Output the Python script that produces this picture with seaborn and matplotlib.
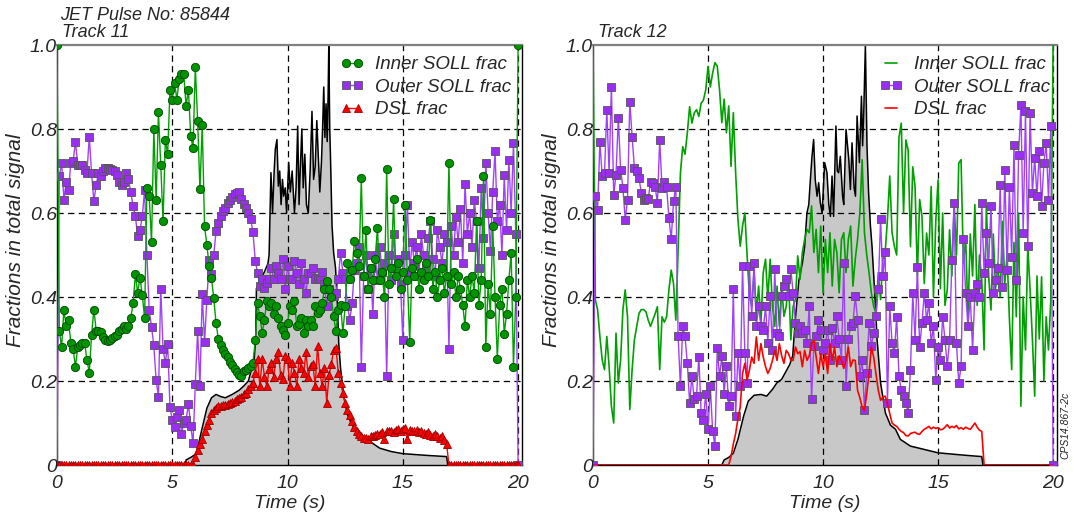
import numpy as np
import matplotlib
matplotlib.use("Agg")
import matplotlib.pyplot as plt
import seaborn as sns

sns.set_style("white")
plt.rcParams['font.family'] = ['Liberation Sans', 'DejaVu Sans']
plt.rcParams['font.style'] = 'italic'

# ---------------- data ----------------
time = np.round(np.arange(201) * 0.1, 1)   # 0.0 .. 20.0 s sampling

left_inner = [
    1.00, 0.32, 0.28, 0.37, 0.33, 0.345, 0.29, 0.276, 0.234, 0.28,
    0.285, 0.29, 0.29, 0.25, 0.22, 0.31, 0.37, 0.32, 0.32, 0.317,
    0.305, 0.297, 0.295, 0.297, 0.303, 0.308, 0.31, 0.32, 0.325, 0.33,
    0.325, 0.33, 0.35, 0.385, 0.454, 0.41, 0.446, 0.404, 0.35, 0.66,
    0.64, 0.53, 0.80, 0.63, 0.84, 0.715, 0.58, 0.775, 0.74, 0.893,
    0.87, 0.91, 0.87, 0.92, 0.93, 0.93, 0.855, 0.893, 0.783, 0.755,
    0.948, 0.82, 0.656, 0.81, 0.568, 0.525, 0.473, 0.445, 0.397, 0.337,
    0.30, 0.285, 0.274, 0.265, 0.256, 0.245, 0.238, 0.228, 0.222, 0.215,
    0.212, 0.223, 0.227, 0.23, 0.236, 0.243, 0.297, 0.386, 0.354, 0.315,
    0.346, 0.39, 0.378, 0.386, 0.36, 0.378, 0.35, 0.33, 0.322, 0.31,
    0.338, 0.378, 0.37, 0.39, 0.33, 0.335, 0.35, 0.315, 0.346, 0.33,
    0.346, 0.33, 0.378, 0.362, 0.37, 0.386, 0.418, 0.437, 0.42, 0.40,
    0.354, 0.318, 0.37, 0.381, 0.315, 0.378, 0.48, 0.442, 0.465, 0.533,
    0.505, 0.473, 0.683, 0.45, 0.56, 0.42, 0.47, 0.44, 0.49, 0.565,
    0.44, 0.46, 0.40, 0.705, 0.43, 0.47, 0.633, 0.45, 0.48, 0.42,
    0.46, 0.62, 0.44, 0.293, 0.47, 0.45, 0.49, 0.42, 0.46, 0.44,
    0.48, 0.45, 0.584, 0.42, 0.46, 0.40, 0.44, 0.47, 0.41, 0.45,
    0.72, 0.43, 0.46, 0.40, 0.45, 0.42, 0.38, 0.33, 0.44, 0.40,
    0.45, 0.41, 0.58, 0.38, 0.44, 0.687, 0.28, 0.43, 0.36, 0.57,
    0.40, 0.253, 0.38, 0.42, 0.313, 0.36, 0.44, 0.505, 0.234, 0.40,
    1.00,
]

left_outer = [
    0.0, 0.687, 0.72, 0.632, 0.675, 0.655, 0.72, 0.723, 0.77, 0.714,
    0.714, 0.714, 0.703, 0.695, 0.782, 0.695, 0.628, 0.667, 0.695, 0.687,
    0.70, 0.707, 0.707, 0.705, 0.703, 0.70, 0.69, 0.675, 0.667, 0.675,
    0.695, 0.68, 0.65, 0.616, 0.592, 0.545, 0.56, 0.592, 0.655, 0.50,
    0.368, 0.329, 0.285, 0.202, 0.162, 0.42, 0.277, 0.242, 0.289, 0.139,
    0.107, 0.091, 0.115, 0.132, 0.075, 0.10, 0.108, 0.146, 0.092, 0.052,
    0.194, 0.32, 0.188, 0.408, 0.292, 0.394, 0.487, 0.455, 0.50, 0.557,
    0.577, 0.592, 0.605, 0.613, 0.625, 0.632, 0.637, 0.645, 0.648, 0.649,
    0.633, 0.621, 0.612, 0.60, 0.586, 0.554, 0.486, 0.458, 0.426, 0.442,
    0.422, 0.434, 0.442, 0.47, 0.442, 0.474, 0.458, 0.442, 0.49, 0.418,
    0.474, 0.442, 0.442, 0.486, 0.458, 0.43, 0.482, 0.442, 0.41, 0.458,
    0.458, 0.47, 0.442, 0.446, 0.442, 0.46, 0.43, 0.378, 0.418, 0.41,
    0.402, 0.41, 0.442, 0.505, 0.458, 0.442, 0.378, 0.346, 0.386, 0.465,
    0.48, 0.52, 0.234, 0.45, 0.50, 0.42, 0.47, 0.36, 0.50, 0.44,
    0.52, 0.46, 0.48, 0.211, 0.50, 0.44, 0.55, 0.47, 0.49, 0.43,
    0.297, 0.50, 0.62, 0.46, 0.53, 0.48, 0.52, 0.45, 0.55, 0.50,
    0.47, 0.54, 0.58, 0.49, 0.45, 0.56, 0.52, 0.48, 0.55, 0.53,
    0.277, 0.57, 0.50, 0.59, 0.53, 0.61, 0.48, 0.67, 0.55, 0.60,
    0.52, 0.63, 0.58, 0.47, 0.66, 0.54, 0.72, 0.60, 0.51, 0.65,
    0.747, 0.58, 0.62, 0.50, 0.69, 0.56, 0.727, 0.60, 0.766, 0.55,
    0.0,
]

left_dsl = [0.0] * 60 + [
    0.02, 0.035, 0.05, 0.061, 0.08, 0.095, 0.108, 0.124, 0.132, 0.136,
    0.14, 0.141, 0.142, 0.144, 0.145, 0.147, 0.150, 0.152, 0.156, 0.160,
    0.163, 0.168, 0.172, 0.180, 0.188, 0.196, 0.22, 0.252, 0.188, 0.252,
    0.21, 0.188, 0.228, 0.243, 0.21, 0.252, 0.268, 0.215, 0.204, 0.26,
    0.252, 0.188, 0.243, 0.22, 0.188, 0.252, 0.232, 0.22, 0.268, 0.21,
    0.235, 0.24, 0.188, 0.283, 0.22, 0.188, 0.23, 0.148, 0.215, 0.24,
    0.275, 0.279, 0.22, 0.196, 0.172, 0.148, 0.132, 0.12, 0.105, 0.09,
    0.08, 0.075, 0.07, 0.065, 0.065, 0.062, 0.068, 0.07, 0.072, 0.075,
    0.075, 0.078, 0.062, 0.08, 0.082, 0.08, 0.078, 0.083, 0.085, 0.082,
    0.085, 0.088, 0.062, 0.084, 0.082, 0.08, 0.083, 0.078, 0.08, 0.076,
    0.075, 0.078, 0.072, 0.07, 0.073, 0.068, 0.065, 0.068, 0.06, 0.05,
] + [0.0] * 31

left_total_t = [
    0.0, 5.55, 5.6, 5.8, 6.0, 6.1, 6.2, 6.35, 6.5, 6.7,
    6.9, 7.1, 7.3, 7.6, 7.9, 8.1, 8.3, 8.45, 8.55, 8.62,
    8.65, 8.8, 9.0, 9.15, 9.2, 9.28, 9.35, 9.42, 9.47, 9.54,
    9.6, 9.66, 9.72, 9.78, 9.83, 9.9, 9.96, 10.05, 10.12, 10.2,
    10.3, 10.37, 10.44, 10.5, 10.55, 10.62, 10.68, 10.75, 10.82, 10.9,
    10.98, 11.06, 11.13, 11.2, 11.27, 11.33, 11.4, 11.47, 11.52, 11.57,
    11.62, 11.67, 11.72, 11.76, 11.79, 11.83, 11.86, 11.93, 12.0, 12.08,
    12.15, 12.22, 12.3, 12.45, 12.6, 12.8, 13.0, 13.3, 13.6, 14.0,
    14.5, 15.0, 16.0, 16.9, 16.95, 20.0,
]
left_total_v = [
    0.0, 0.0, 0.012, 0.018, 0.025, 0.04, 0.065, 0.10, 0.135, 0.16,
    0.168, 0.163, 0.16, 0.168, 0.178, 0.188, 0.20, 0.23, 0.25, 0.30,
    0.42, 0.44, 0.46, 0.48, 0.50, 0.696, 0.60, 0.70, 0.752, 0.775,
    0.664, 0.70, 0.62, 0.68, 0.64, 0.66, 0.60, 0.72, 0.65, 0.70,
    0.60, 0.66, 0.807, 0.62, 0.70, 0.80, 0.66, 0.74, 0.62, 0.60,
    0.70, 0.842, 0.68, 0.71, 0.82, 0.74, 0.65, 0.72, 0.80, 0.90,
    0.78, 0.86, 0.77, 0.88, 1.0, 0.80, 0.74, 0.57, 0.505, 0.47,
    0.40, 0.29, 0.23, 0.16, 0.12, 0.095, 0.083, 0.068, 0.055, 0.04,
    0.032, 0.027, 0.023, 0.02, 0.0, 0.0,
]

right_inner = [
    1.0, 0.393, 0.37, 0.306, 0.25, 0.227, 0.306, 0.235, 0.14, 0.10,
    0.314, 0.195, 0.25, 0.37, 0.417, 0.353, 0.132, 0.227, 0.298, 0.33,
    0.361, 0.37, 0.37, 0.365, 0.345, 0.33, 0.345, 0.36, 0.377, 0.227,
    0.353, 0.34, 0.353, 0.417, 0.464, 0.432, 0.345, 0.513, 0.695, 0.758,
    0.74, 0.79, 0.853, 0.814, 0.838, 0.846, 0.83, 0.861, 0.869, 0.893,
    0.949, 0.90, 0.933, 0.958, 0.95, 0.894, 0.815, 0.871, 0.791, 0.855,
    0.711, 0.839, 0.696, 0.585, 0.521, 0.569, 0.60, 0.498, 0.402, 0.378,
    0.458, 0.362, 0.426, 0.338, 0.458, 0.49, 0.394, 0.49, 0.378, 0.33,
    0.426, 0.33, 0.426, 0.354, 0.378, 0.442, 0.298, 0.378, 0.394, 0.498,
    0.442, 0.506, 0.537, 0.561, 0.553, 0.617, 0.506, 0.561, 0.458, 0.569,
    0.41, 0.537, 0.458, 0.553, 0.426, 0.537, 0.506, 0.41, 0.537, 0.553,
    0.458, 0.537, 0.569, 0.426, 0.49, 0.537, 0.60, 0.727, 0.553, 0.50,
    0.458, 0.41, 0.378, 0.362, 0.458, 0.394, 0.49, 0.506, 0.585, 0.688,
    0.553, 0.521, 0.50, 0.78, 0.814, 0.60, 0.774, 0.75, 0.52, 0.71,
    0.663, 0.45, 0.632, 0.592, 0.432, 0.552, 0.50, 0.663, 0.40, 0.58,
    0.679, 0.42, 0.60, 0.38, 0.417, 0.56, 0.45, 0.62, 0.50, 0.719,
    0.727, 0.48, 0.54, 0.353, 0.55, 0.45, 0.62, 0.38, 0.50, 0.44,
    0.274, 0.616, 0.45, 0.369, 0.55, 0.42, 0.48, 0.40, 0.58, 0.432,
    0.50, 0.35, 0.227, 0.53, 0.353, 0.60, 0.14, 0.40, 0.274, 0.52,
    0.417, 0.30, 0.164, 0.45, 0.30, 0.448, 0.20, 0.353, 0.274, 0.393,
    1.0,
]

right_outer = [
    0.0, 0.64, 0.608, 0.77, 0.687, 0.695, 0.846, 0.695, 0.901, 0.644,
    0.691, 0.826, 0.703, 0.66, 0.584, 0.632, 0.865, 0.782, 0.707, 0.699,
    0.683, 0.648, 0.632, 0.636, 0.633, 0.675, 0.671, 0.663, 0.624, 0.774,
    0.66, 0.675, 0.663, 0.588, 0.537, 0.628, 0.663, 0.306, 0.187, 0.33,
    0.306, 0.243, 0.148, 0.211, 0.156, 0.164, 0.258, 0.124, 0.108, 0.17,
    0.085, 0.187, 0.081, 0.045, 0.278, 0.211, 0.259, 0.17, 0.235, 0.14,
    0.164, 0.418, 0.116, 0.267, 0.188, 0.474, 0.267, 0.196, 0.474, 0.354,
    0.482, 0.33, 0.378, 0.33, 0.322, 0.378, 0.291, 0.402, 0.275, 0.466,
    0.315, 0.307, 0.402, 0.426, 0.442, 0.402, 0.466, 0.41, 0.338, 0.315,
    0.33, 0.315, 0.322, 0.29, 0.378, 0.156, 0.283, 0.307, 0.346, 0.322,
    0.275, 0.29, 0.322, 0.251, 0.326, 0.291, 0.354, 0.30, 0.251, 0.482,
    0.188, 0.299, 0.33, 0.338, 0.402, 0.346, 0.211, 0.251, 0.132, 0.22,
    0.338, 0.283, 0.315, 0.354, 0.418, 0.585, 0.45, 0.506, 0.148, 0.378,
    0.29, 0.266, 0.353, 0.211, 0.179, 0.164, 0.148, 0.124, 0.227, 0.409,
    0.298, 0.472, 0.282, 0.338, 0.409, 0.345, 0.385, 0.29, 0.33, 0.203,
    0.282, 0.251, 0.353, 0.298, 0.235, 0.298, 0.488, 0.625, 0.29, 0.195,
    0.235, 0.537, 0.409, 0.33, 0.40, 0.274, 0.409, 0.432, 0.40, 0.624,
    0.456, 0.552, 0.48, 0.616, 0.409, 0.44, 0.47, 0.667, 0.424, 0.703,
    0.464, 0.663, 0.496, 0.762, 0.44, 0.739, 0.857, 0.552, 0.842, 0.521,
    0.838, 0.648, 0.731, 0.64, 0.747, 0.616, 0.719, 0.766, 0.632, 0.806,
    0.0,
]

right_dsl = [0.0] * 60 + [
    0.02, 0.05, 0.075, 0.11, 0.138, 0.218, 0.242, 0.202, 0.226, 0.257,
    0.242, 0.305, 0.249, 0.289, 0.257, 0.234, 0.218, 0.23, 0.249, 0.273,
    0.249, 0.289, 0.26, 0.242, 0.273, 0.265, 0.25, 0.249, 0.281, 0.265,
    0.27, 0.234, 0.273, 0.249, 0.26, 0.289, 0.297, 0.257, 0.218, 0.265,
    0.234, 0.265, 0.218, 0.289, 0.249, 0.281, 0.234, 0.26, 0.249, 0.23,
    0.249, 0.281, 0.234, 0.25, 0.249, 0.178, 0.16, 0.138, 0.13, 0.17,
    0.218, 0.281, 0.257, 0.218, 0.178, 0.154, 0.162, 0.164, 0.146, 0.122,
    0.10, 0.095, 0.092, 0.085, 0.08, 0.077, 0.07, 0.069, 0.075, 0.077,
    0.078, 0.074, 0.073, 0.08, 0.085, 0.088, 0.092, 0.086, 0.09, 0.087,
    0.089, 0.084, 0.085, 0.09, 0.096, 0.088, 0.092, 0.089, 0.094, 0.086,
    0.089, 0.085, 0.09, 0.087, 0.085, 0.092, 0.1, 0.09, 0.083, 0.08,
] + [0.0] * 31

right_total_t = [
    0.0, 5.6, 5.7, 5.9, 6.1, 6.3, 6.55, 6.75, 7.0, 7.3,
    7.55, 7.8, 8.0, 8.2, 8.4, 8.55, 8.68, 8.8, 8.95, 9.1,
    9.2, 9.3, 9.38, 9.45, 9.52, 9.59, 9.66, 9.74, 9.81, 9.88,
    9.96, 10.07, 10.17, 10.25, 10.32, 10.39, 10.46, 10.56, 10.62, 10.68,
    10.75, 10.85, 10.9, 11.0, 11.12, 11.19, 11.26, 11.35, 11.41, 11.48,
    11.58, 11.67, 11.72, 11.77, 11.84, 11.91, 11.98, 12.06, 12.13, 12.28,
    12.35, 12.5, 12.71, 12.93, 13.15, 13.36, 13.8, 15.0, 16.0, 16.9,
    16.95, 20.0,
]
right_total_v = [
    0.0, 0.0, 0.012, 0.018, 0.028, 0.061, 0.117, 0.152, 0.166, 0.168,
    0.164, 0.18, 0.196, 0.204, 0.224, 0.239, 0.26, 0.35, 0.44, 0.48,
    0.52, 0.60, 0.62, 0.68, 0.735, 0.775, 0.68, 0.64, 0.672, 0.625,
    0.60, 0.72, 0.696, 0.62, 0.592, 0.688, 0.592, 0.807, 0.70, 0.696,
    0.735, 0.64, 0.62, 0.799, 0.727, 0.656, 0.767, 0.66, 0.64, 0.831,
    0.72, 0.878, 0.76, 0.84, 1.0, 0.76, 0.648, 0.569, 0.52, 0.378,
    0.298, 0.196, 0.124, 0.095, 0.085, 0.061, 0.045, 0.029, 0.024, 0.02,
    0.0, 0.0,
]

x_ticks = [0, 5, 10, 15, 20]
x_tick_labels = ["0", "5", "10", "15", "20"]
y_ticks = [0, 0.2, 0.4, 0.6, 0.8, 1.0]
y_tick_labels = ["0", "0.2", "0.4", "0.6", "0.8", "1.0"]
series_labels = ["Inner SOLL frac", "Outer SOLL frac", "DSL frac"]

GREEN_LINE, GREEN_FACE, GREEN_EDGE = "#00A000", "#009400", "#004A00"
PURPLE_LINE, PURPLE_FACE, PURPLE_EDGE = "#A040FF", "#9A2EF0", "#555555"
RED_LINE, RED_FACE, RED_EDGE = "#FF0000", "#FF0000", "#A00000"

# ---------------- figure ----------------
fig = plt.figure(figsize=(10.74, 5.12), dpi=100)
axL = fig.add_axes([57 / 1074, 1 - 465 / 512, 465 / 1074, 420 / 512])
axR = fig.add_axes([593 / 1074, 1 - 465 / 512, 464 / 1074, 420 / 512])


def base_panel(ax, tt, tv):
    ax.fill_between(tt, tv, 0, color="#C8C8C8", lw=0, zorder=1)
    sns.lineplot(x=tt, y=tv, ax=ax, color="black", lw=1.1,
                 estimator=None, sort=False, zorder=1.3)
    for xv in x_ticks[1:]:
        ax.axvline(xv, color="black", lw=0.9, ls=(0, (5, 3.5)), zorder=1.5)
    for yv in y_ticks[1:-1]:
        ax.axhline(yv, color="black", lw=0.9, ls=(0, (5, 3.5)), zorder=1.5)


def finish_panel(ax, legend_x):
    ax.set_xlim(0, 20.17)
    ax.set_ylim(0, 1.0)
    ax.set_xticks(x_ticks)
    ax.set_xticklabels(x_tick_labels)
    ax.set_yticks(y_ticks)
    ax.set_yticklabels(y_tick_labels)
    ax.tick_params(axis="both", length=0, labelsize=14)
    ax.tick_params(axis="y", pad=0.0)
    ax.tick_params(axis="x", pad=7)
    for side in ["left", "bottom", "right"]:
        ax.spines[side].set_color("black")
        ax.spines[side].set_linewidth(1.0)
    ax.spines["top"].set_color("#808080")
    ax.spines["top"].set_linewidth(1.6)
    ax.set_xlabel("Time (s)", fontsize=14)
    ax.set_ylabel("Fractions in total signal", fontsize=15)
    ax.xaxis.set_label_coords(0.5, -0.071)
    ax.yaxis.set_label_coords(-0.068, 0.535)
    handles, labels = ax.get_legend_handles_labels()
    hmap = dict(zip(labels, handles))
    ax.legend([hmap[l] for l in series_labels], series_labels,
              loc="upper right", bbox_to_anchor=(legend_x, 1.0), frameon=False,
              fontsize=13.5, handlelength=1.25, handletextpad=0.6,
              labelspacing=0.28, numpoints=2, borderpad=0.3, borderaxespad=0.3)


# ---- left panel: Track 11 ----
base_panel(axL, left_total_t, left_total_v)
sns.lineplot(x=time, y=left_outer, ax=axL, color=PURPLE_LINE, lw=1.0,
             marker="s", markersize=5.8, markerfacecolor=PURPLE_FACE,
             markeredgecolor=PURPLE_EDGE, markeredgewidth=0.6,
             label=series_labels[1], estimator=None, sort=False, zorder=3)
sns.lineplot(x=time, y=left_inner, ax=axL, color=GREEN_LINE, lw=1.0,
             marker="o", markersize=6.0, markerfacecolor=GREEN_FACE,
             markeredgecolor=GREEN_EDGE, markeredgewidth=0.6,
             label=series_labels[0], estimator=None, sort=False, zorder=3.2)
sns.lineplot(x=time, y=left_dsl, ax=axL, color=RED_LINE, lw=1.0,
             marker="^", markersize=6.2, markerfacecolor=RED_FACE,
             markeredgecolor=RED_EDGE, markeredgewidth=0.6,
             label=series_labels[2], estimator=None, sort=False, zorder=3.4)
finish_panel(axL, 1.0)

# ---- right panel: Track 12 ----
base_panel(axR, right_total_t, right_total_v)
sns.lineplot(x=time, y=right_inner, ax=axR, color=GREEN_LINE, lw=1.2,
             label=series_labels[0], estimator=None, sort=False, zorder=3)
sns.lineplot(x=time, y=right_outer, ax=axR, color=PURPLE_LINE, lw=1.0,
             marker="s", markersize=5.8, markerfacecolor=PURPLE_FACE,
             markeredgecolor=PURPLE_EDGE, markeredgewidth=0.6,
             label=series_labels[1], estimator=None, sort=False, zorder=3.2)
sns.lineplot(x=time, y=right_dsl, ax=axR, color=RED_LINE, lw=1.2,
             label=series_labels[2], estimator=None, sort=False, zorder=3.4)
finish_panel(axR, 1.01)

# ---- texts ----
fig.text(60 / 1074, 1 - 7 / 512, "JET Pulse No: 85844", ha="left", va="top", fontsize=13)
fig.text(62 / 1074, 1 - 24 / 512, "Track 11", ha="left", va="top", fontsize=13)
fig.text(598 / 1074, 1 - 24 / 512, "Track 12", ha="left", va="top", fontsize=13)
fig.text(1065 / 1074, 1 - 425 / 512, "CPS14.867-2c", rotation=90,
         ha="center", va="center", fontsize=7.5)

fig.savefig("out.png", dpi=100)
